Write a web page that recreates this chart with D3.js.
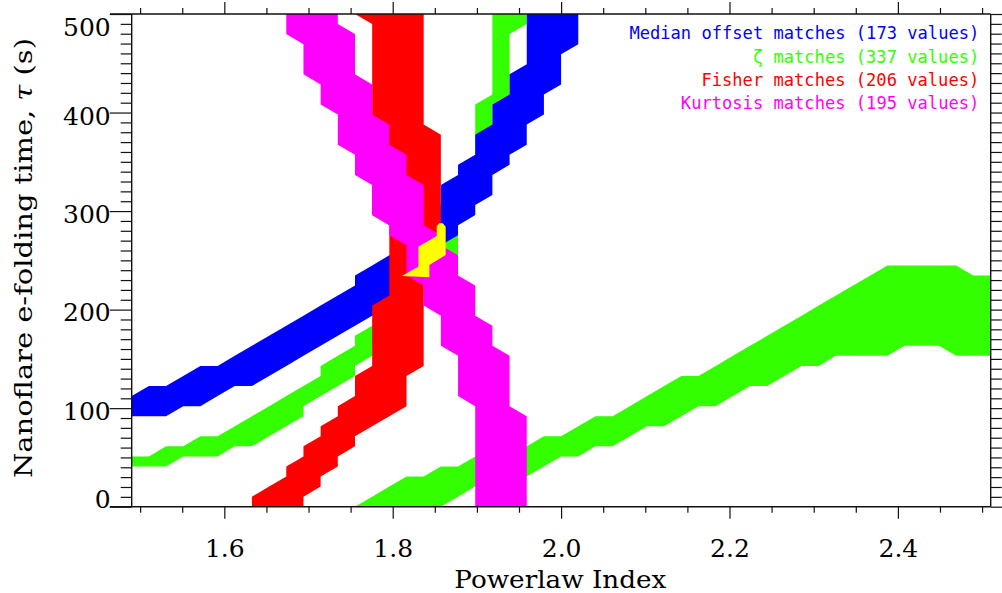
<!DOCTYPE html>
<html><head><meta charset="utf-8">
<script src="https://cdn.jsdelivr.net/npm/d3@7"></script>
<style>
html,body{margin:0;padding:0;background:#fff;}
svg{display:block;}
</style></head><body>
<svg id="chart" width="1002" height="593"></svg>
<script>
// ---------------- DATA ----------------
// Grid of the model: powerlaw index 1.50..2.50 (step 0.02), tau 0..490 s (step 10)
// Median offset matches: per powerlaw-index column (from 1.50), tau range
const medianStartAlpha = 1.50;
const medianTauLow  = [90,90,90,100,100,110,120,120,130,140,150,160,170,180,190,200,210,230,250,270,290,310,340,360,390,420,460];
const medianTauHigh = [110,120,120,130,140,140,150,160,170,180,190,200,210,230,240,250,270,290,320,340,370,400,430,490,490,490,490];

// zeta matches: two regions, per column
const zetaAStartAlpha = 1.50;
const zetaATauLow  = [40,40,40,50,50,50,60,60,70,80,90,110,120,130,150,170,190,210,230,250,290,350,410,480];
const zetaATauHigh = [50,50,60,60,70,70,80,90,100,110,120,140,150,170,180,200,230,260,290,330,400,490,490,490];
const zetaBStartAlpha = 1.76;
const zetaBTauLow  = [0,0,0,0,0,0,10,20,20,30,30,40,50,50,60,60,70,80,80,90,100,100,110,120,120,130,140,140,150,150,150,150,160,160,160,150,150,150];
const zetaBTauHigh = [0,10,20,30,30,40,40,50,50,60,60,70,70,80,90,90,100,110,120,130,130,140,150,160,170,180,190,200,210,220,230,240,240,240,240,240,230,230];

// tau rows 0..490
const tauRows = [0,10,20,30,40,50,60,70,80,90,100,110,120,130,140,150,160,170,180,190,200,210,220,230,240,250,260,270,280,290,300,310,320,330,340,350,360,370,380,390,400,410,420,430,440,450,460,470,480,490];

// Fisher matches: per tau row, powerlaw-index range
const fisherAlphaLow  = [1.64,1.64,1.66,1.68,1.68,1.70,1.70,1.72,1.72,1.74,1.74,1.76,1.76,1.76,
  1.78,1.78,1.78,1.78,1.78,1.78,1.78, 1.80,1.80,1.80,1.80,1.80,1.80,1.80,1.80,
  1.78,1.78,1.78,1.78,1.78,1.78,1.78,1.78,1.78,1.78,1.78,1.78,1.78,1.78,1.78,1.78,1.78,1.78,1.78,1.78, 1.76];
const fisherAlphaHigh = [1.70,1.70,1.72,1.72,1.74,1.74,1.76,1.76,1.78,1.80, 1.82,1.82,1.82,1.82,
  1.84,1.84,1.84,1.84,1.84,1.84,1.84,1.84,1.84,1.84,
  1.86,1.86,1.86,1.86,1.86,1.86,1.86,1.86,1.86,1.86,1.86,1.86,1.86,1.86,
  1.84,1.84,1.84,1.84,1.84,1.84,1.84,1.84,1.84,1.84,1.84,1.84];

// Kurtosis matches: per tau row, powerlaw-index range
const kurtosisAlphaLow  = [1.90,1.90,1.90,1.90,1.90,1.90,1.90,1.90,1.90,1.90,1.90,
  1.88,1.88,1.88,1.88,1.88, 1.86,1.86,1.86,1.86, 1.84,1.84,1.84, 1.82,1.82,1.82,1.82,
  1.80,1.80, 1.78,1.78,1.78,1.78, 1.76,1.76,1.76, 1.74,1.74,1.74,1.74, 1.72,1.72,1.72,
  1.70,1.70,1.70,1.70, 1.68,1.68,1.68];
const kurtosisAlphaHigh = [1.96,1.96,1.96,1.96,1.96,1.96,1.96,1.96,1.96,1.96,
  1.94,1.94,1.94,1.94,1.94,1.94, 1.92,1.92,1.92, 1.90,1.90,1.90,1.90, 1.88,1.88,1.88,
  1.86,1.86, 1.84,1.84,1.84,1.84,1.84, 1.82,1.82,1.82, 1.80,1.80,1.80, 1.78,1.78,1.78,1.78,
  1.76,1.76,1.76,1.76,1.76, 1.74,1.74];

// Region where all four match (outline)
const overlapAlpha = [1.8144,1.8338,1.8338,1.8552,1.8552,1.8582,1.8622,1.8656,1.8656,1.8466,1.8466];
const overlapTau   = [229.4,238.7,258.6,269.2,279.2,281.9,281.9,278.5,250.3,240.3,228.1];

const xMajorTicks = [1.6,1.8,2.0,2.2,2.4];
const xMinorTicks = [1.50,1.55,1.65,1.70,1.75,1.85,1.90,1.95,2.05,2.10,2.15,2.25,2.30,2.35,2.45,2.50];
const yMajorTicks = [0,100,200,300,400,500];
const yMinorTicks = [10,20,30,40,50,60,70,80,90,110,120,130,140,150,160,170,180,190,210,220,230,240,250,260,270,280,290,310,320,330,340,350,360,370,380,390,410,420,430,440,450,460,470,480,490];

const legendLabels = ["Median offset matches (173 values)", "\u03B6 matches (337 values)", "Fisher matches (206 values)", "Kurtosis matches (195 values)"];
const colors = {median:"#0000ff", zeta:"#33ff00", fisher:"#ff0000", kurtosis:"#ff00ff", all:"#ffff00"};

// ---------------- SCALES ----------------
const svg = d3.select("#chart");
const x = d3.scaleLinear().domain([1.49, 2.51]).range([131.7, 990.5]);
const y = d3.scaleLinear().domain([0, 500]).range([506.7, 14]);
// model grid placement
const gx = d3.scaleLinear().domain([1.50, 2.50]).range([x(1.49), x(2.51)]);
const gy = d3.scaleLinear().domain([0, 490]).range([y(0), y(500)]);

const key = (k, r) => k * 1000 + r;
function maskFromColumns(start, lows, highs, s) {
  const k0 = Math.round((start - 1.5) / 0.02);
  lows.forEach((lo, i) => {
    for (let r = Math.round(lo / 10); r <= Math.round(highs[i] / 10); r++) s.add(key(k0 + i, r));
  });
  return s;
}
function maskFromRows(rows, lowsA, highsA) {
  const s = new Set();
  rows.forEach((t, i) => {
    const r = Math.round(t / 10);
    const a = Math.round((lowsA[i] - 1.5) / 0.02), b = Math.round((highsA[i] - 1.5) / 0.02);
    for (let k = a; k <= b; k++) s.add(key(k, r));
  });
  return s;
}
function regionPath(mask) {
  let d = "";
  for (let k = 0; k < 50; k++) for (let r = 0; r < 49; r++) {
    const c = [[k, r], [k + 1, r], [k + 1, r + 1], [k, r + 1]].filter(p => mask.has(key(p[0], p[1])));
    if (c.length >= 3) {
      d += "M" + c.map(p => gx(1.5 + 0.02 * p[0]).toFixed(2) + "," + gy(10 * p[1]).toFixed(2)).join("L") + "Z";
    }
  }
  return d;
}

const zetaMask = maskFromColumns(zetaBStartAlpha, zetaBTauLow, zetaBTauHigh,
                   maskFromColumns(zetaAStartAlpha, zetaATauLow, zetaATauHigh, new Set()));
const medianMask = maskFromColumns(medianStartAlpha, medianTauLow, medianTauHigh, new Set());
const fisherMask = maskFromRows(tauRows, fisherAlphaLow, fisherAlphaHigh);
const kurtMask = maskFromRows(tauRows, kurtosisAlphaLow, kurtosisAlphaHigh);

const plot = svg.append("g");
[[zetaMask, colors.zeta], [medianMask, colors.median], [fisherMask, colors.fisher], [kurtMask, colors.kurtosis]]
  .forEach(([m, col]) => plot.append("path").attr("d", regionPath(m)).attr("fill", col).attr("fill-rule", "nonzero"));

plot.append("path")
  .datum(overlapAlpha.map((a, i) => [a, overlapTau[i]]))
  .attr("d", d3.line().x(d => gx(d[0])).y(d => gy(d[1])).curve(d3.curveLinearClosed))
  .attr("fill", colors.all);

// ---------------- AXES ----------------
const axCol = "#111";
function styleAxis(g) {
  g.select(".domain").remove();
  g.selectAll(".tick line").attr("stroke", axCol).attr("stroke-width", 1.2);
}
svg.append("g").attr("transform", "translate(0,506.7)")
  .call(d3.axisBottom(x).tickValues(xMinorTicks).tickSize(6).tickFormat("")).call(styleAxis);
const xb = svg.append("g").attr("transform", "translate(0,506.7)")
  .call(d3.axisBottom(x).tickValues(xMajorTicks).tickSize(12).tickFormat(d3.format(".1f"))).call(styleAxis);
xb.selectAll(".tick text").attr("y", 50).attr("dy", 0)
  .attr("font-family", "DejaVu Serif").attr("font-size", 25).attr("fill", "#000");

svg.append("g").attr("transform", "translate(0,14)")
  .call(d3.axisTop(x).tickValues(xMinorTicks).tickSize(6).tickFormat("")).call(styleAxis);
svg.append("g").attr("transform", "translate(0,14)")
  .call(d3.axisTop(x).tickValues(xMajorTicks).tickSize(12).tickFormat("")).call(styleAxis);

svg.append("g").attr("transform", "translate(131.7,0)")
  .call(d3.axisLeft(y).tickValues(yMinorTicks).tickSize(11).tickFormat("")).call(styleAxis);
const yl = svg.append("g").attr("transform", "translate(131.7,0)")
  .call(d3.axisLeft(y).tickValues(yMajorTicks).tickSize(22).tickFormat(d3.format("d"))).call(styleAxis);
yl.selectAll(".tick text").attr("x", -21).attr("dy", "0.36em")
  .attr("transform", d => "translate(0," + (d === 500 ? 12 : d === 0 ? -8.5 : (d === 400 ? 3 : 2)) + ")")
  .attr("font-family", "DejaVu Serif").attr("font-size", 25).attr("fill", "#000");

svg.append("g").attr("transform", "translate(990.7,0)")
  .call(d3.axisRight(y).tickValues(yMinorTicks).tickSize(11).tickFormat("")).call(styleAxis);
svg.append("g").attr("transform", "translate(990.7,0)")
  .call(d3.axisRight(y).tickValues(yMajorTicks).tickSize(22).tickFormat("")).call(styleAxis);

// frame
const frame = svg.append("g").attr("stroke", axCol).attr("stroke-width", 1.4).attr("fill", "none");
frame.append("line").attr("x1", 110).attr("x2", 990.7).attr("y1", 14).attr("y2", 14);
frame.append("line").attr("x1", 110).attr("x2", 990.7).attr("y1", 506.7).attr("y2", 506.7);
frame.append("line").attr("x1", 131.7).attr("x2", 131.7).attr("y1", 14).attr("y2", 506.7);
frame.append("line").attr("x1", 990.7).attr("x2", 990.7).attr("y1", 14).attr("y2", 506.7);

// titles
svg.append("text").attr("x", 560.3).attr("y", 588.3).attr("text-anchor", "middle")
  .attr("font-family", "DejaVu Serif").attr("font-size", 25)
  .attr("textLength", 212).attr("lengthAdjust", "spacingAndGlyphs")
  .text("Powerlaw Index");
const yt = svg.append("text").attr("transform", "translate(31.5,258) rotate(-90)").attr("text-anchor", "middle")
  .attr("font-family", "DejaVu Serif").attr("font-size", 25)
  .attr("textLength", 440).attr("lengthAdjust", "spacingAndGlyphs");
yt.append("tspan").text("Nanoflare e-folding time, ");
yt.append("tspan").attr("font-style", "italic").text("\u03C4");
yt.append("tspan").text(" (s)");

// legend
const legColors = [colors.median, colors.zeta, colors.fisher, colors.kurtosis];
svg.append("g").selectAll("text").data(legendLabels).join("text")
  .attr("x", 979.3).attr("y", (d, i) => 39.3 + i * 23.35)
  .attr("text-anchor", "end")
  .attr("font-family", "DejaVu Sans Mono").attr("font-size", 17.1)
  .attr("fill", (d, i) => legColors[i])
  .text(d => d);
</script>
</body></html>
